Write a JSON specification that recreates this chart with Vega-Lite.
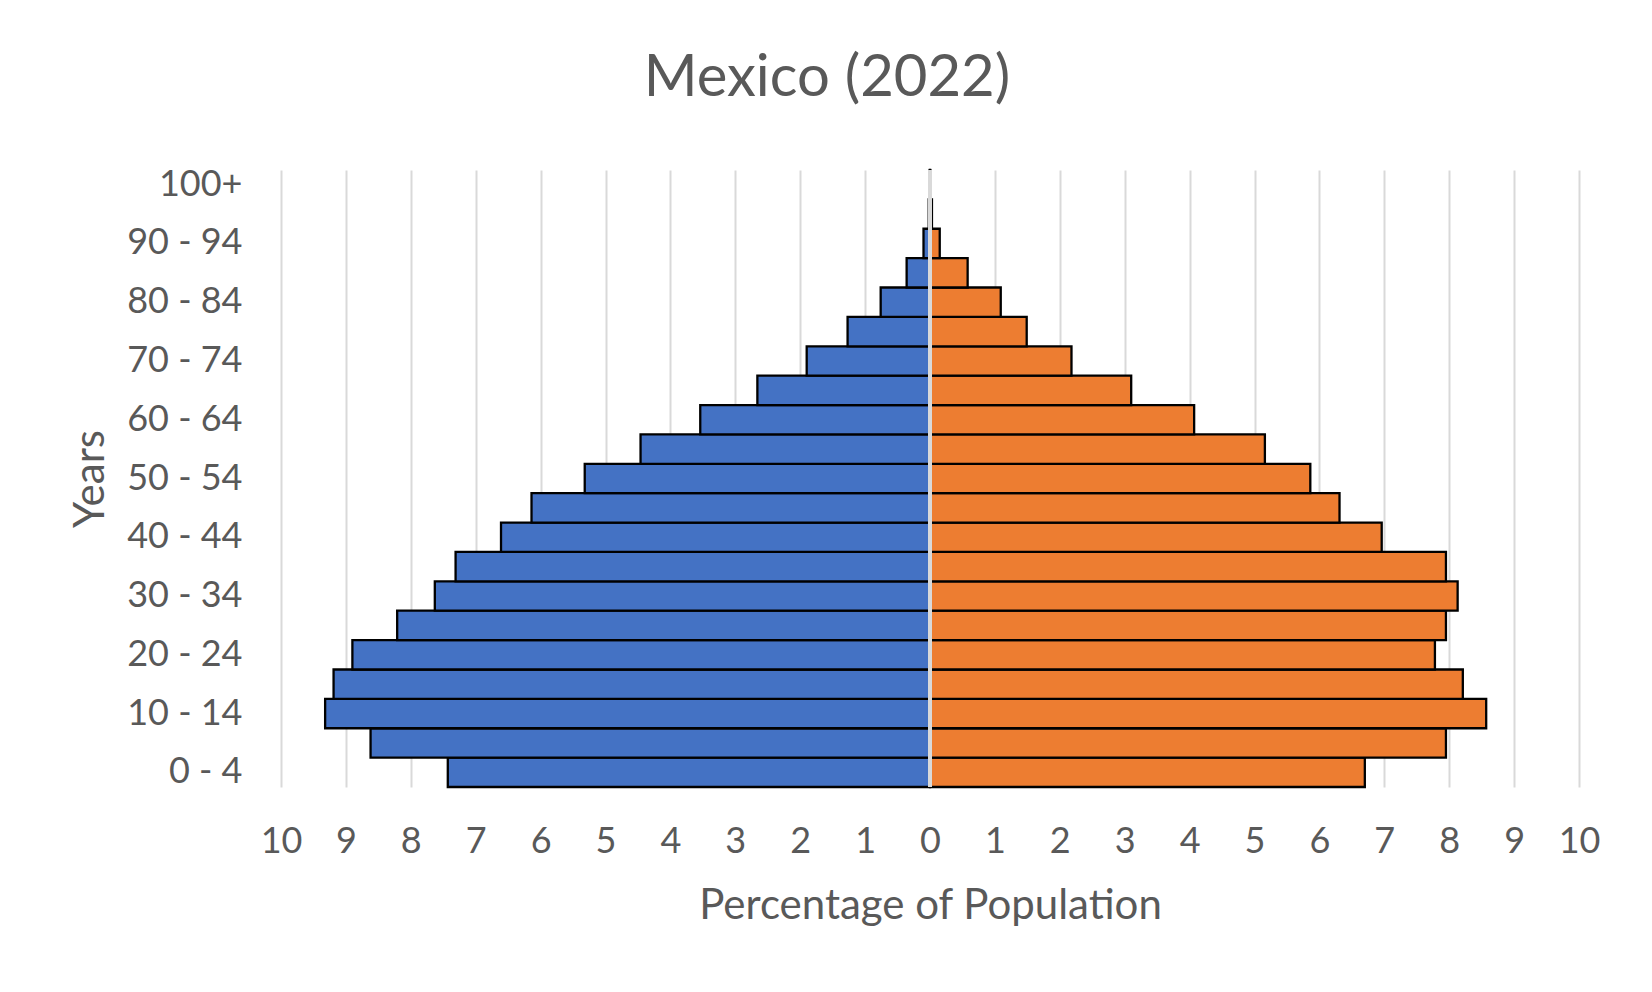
{
  "$schema": "https://vega.github.io/schema/vega-lite/v6.json",
  "autosize": "none",
  "width": 1298,
  "height": 617,
  "padding": {"left": 281, "top": 170, "right": 73, "bottom": 205},
  "background": "white",
  "title": {
    "text": "Mexico (2022)",
    "anchor": "middle",
    "frame": "group",
    "baseline": "alphabetic",
    "offset": 12,
    "dx": -103,
    "font": "Lato",
    "fontSize": 58,
    "fontWeight": "normal",
    "color": "#595959"
  },
  "config": {
    "view": {"stroke": null},
    "axis": {
      "labelFont": "Lato",
      "labelFontSize": 36,
      "labelColor": "#595959",
      "titleFont": "Lato",
      "titleFontSize": 42,
      "titleFontWeight": "normal",
      "titleColor": "#595959"
    }
  },
  "data": {
    "values": [
      {"age": "0 - 4", "sex": "Male", "value": -7.43},
      {"age": "5 - 9", "sex": "Male", "value": -8.62},
      {"age": "10 - 14", "sex": "Male", "value": -9.32},
      {"age": "15 - 19", "sex": "Male", "value": -9.19},
      {"age": "20 - 24", "sex": "Male", "value": -8.90},
      {"age": "25 - 29", "sex": "Male", "value": -8.21},
      {"age": "30 - 34", "sex": "Male", "value": -7.63},
      {"age": "35 - 39", "sex": "Male", "value": -7.31},
      {"age": "40 - 44", "sex": "Male", "value": -6.61},
      {"age": "45 - 49", "sex": "Male", "value": -6.14},
      {"age": "50 - 54", "sex": "Male", "value": -5.32},
      {"age": "55 - 59", "sex": "Male", "value": -4.46},
      {"age": "60 - 64", "sex": "Male", "value": -3.54},
      {"age": "65 - 69", "sex": "Male", "value": -2.66},
      {"age": "70 - 74", "sex": "Male", "value": -1.90},
      {"age": "75 - 79", "sex": "Male", "value": -1.27},
      {"age": "80 - 84", "sex": "Male", "value": -0.76},
      {"age": "85 - 89", "sex": "Male", "value": -0.36},
      {"age": "90 - 94", "sex": "Male", "value": -0.10},
      {"age": "95 - 99", "sex": "Male", "value": -0.02},
      {"age": "100+", "sex": "Male", "value": -0.005},
      {"age": "0 - 4", "sex": "Female", "value": 6.70},
      {"age": "5 - 9", "sex": "Female", "value": 7.95},
      {"age": "10 - 14", "sex": "Female", "value": 8.57},
      {"age": "15 - 19", "sex": "Female", "value": 8.21},
      {"age": "20 - 24", "sex": "Female", "value": 7.78},
      {"age": "25 - 29", "sex": "Female", "value": 7.95},
      {"age": "30 - 34", "sex": "Female", "value": 8.13},
      {"age": "35 - 39", "sex": "Female", "value": 7.95},
      {"age": "40 - 44", "sex": "Female", "value": 6.96},
      {"age": "45 - 49", "sex": "Female", "value": 6.31},
      {"age": "50 - 54", "sex": "Female", "value": 5.86},
      {"age": "55 - 59", "sex": "Female", "value": 5.16},
      {"age": "60 - 64", "sex": "Female", "value": 4.07},
      {"age": "65 - 69", "sex": "Female", "value": 3.10},
      {"age": "70 - 74", "sex": "Female", "value": 2.18},
      {"age": "75 - 79", "sex": "Female", "value": 1.49},
      {"age": "80 - 84", "sex": "Female", "value": 1.09},
      {"age": "85 - 89", "sex": "Female", "value": 0.58},
      {"age": "90 - 94", "sex": "Female", "value": 0.15},
      {"age": "95 - 99", "sex": "Female", "value": 0.03},
      {"age": "100+", "sex": "Female", "value": 0.005}
    ]
  },
  "layer": [
    {
      "mark": {"type": "bar", "stroke": "black", "strokeWidth": 2.3},
      "encoding": {
        "y": {
          "field": "age",
          "type": "ordinal",
          "sort": ["100+", "95 - 99", "90 - 94", "85 - 89", "80 - 84", "75 - 79", "70 - 74", "65 - 69", "60 - 64", "55 - 59", "50 - 54", "45 - 49", "40 - 44", "35 - 39", "30 - 34", "25 - 29", "20 - 24", "15 - 19", "10 - 14", "5 - 9", "0 - 4"],
          "scale": {"paddingInner": 0, "paddingOuter": 0},
          "axis": {
            "title": "Years",
            "values": ["100+", "90 - 94", "80 - 84", "70 - 74", "60 - 64", "50 - 54", "40 - 44", "30 - 34", "20 - 24", "10 - 14", "0 - 4"],
            "ticks": false,
            "domain": false,
            "grid": false,
            "labelPadding": 39,
            "titleAngle": -90,
            "titleBaseline": "alphabetic",
            "titleX": -178
          }
        },
        "x": {
          "field": "value",
          "type": "quantitative",
          "scale": {"domain": [-10, 10], "nice": false, "zero": false},
          "axis": {
            "title": "Percentage of Population",
            "values": [-10, -9, -8, -7, -6, -5, -4, -3, -2, -1, 0, 1, 2, 3, 4, 5, 6, 7, 8, 9, 10],
            "labelExpr": "abs(datum.value)",
            "ticks": false,
            "domain": false,
            "grid": true,
            "gridColor": "#d9d9d9",
            "gridWidth": 2,
            "labelPadding": 37,
            "labelFlush": false,
            "labelOverlap": false,
            "titleBaseline": "alphabetic",
            "titleY": 131
          }
        },
        "color": {
          "field": "sex",
          "type": "nominal",
          "scale": {"domain": ["Male", "Female"], "range": ["#4472C4", "#ED7D31"]},
          "legend": null
        }
      }
    },
    {
      "mark": {"type": "rule", "color": "#d9d9d9", "strokeWidth": 3},
      "encoding": {
        "x": {"datum": 0, "type": "quantitative"}
      }
    }
  ]
}
